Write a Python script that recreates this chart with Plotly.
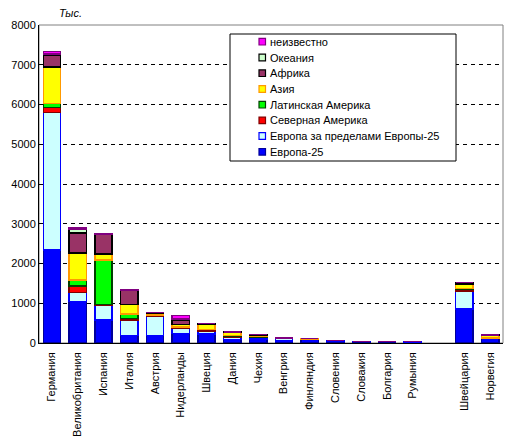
import plotly.graph_objects as go

countries = ["Германия", "Великобритания", "Испания", "Италия", "Австрия", "Нидерланды",
             "Швеция", "Дания", "Чехия", "Венгрия", "Финляндия", "Словения", "Словакия",
             "Болгария", "Румыния", " ", "Швейцария", "Норвегия"]

europe25 = [2345, 1040, 585, 190, 190, 240, 225, 85, 100, 45, 90, 55, 35, 35, 30, None, 860, 110]
europe_other = [3460, 230, 360, 395, 480, 120, 75, 55, 45, 65, 10, 10, 5, 5, 5, None, 445, 15]
north_america = [125, 170, 20, 35, 20, 30, 35, 40, 10, 5, 0, 0, 0, 0, 0, None, 55, 5]
latin_america = [100, 140, 1125, 110, 10, 10, 5, 5, 5, 5, 0, 0, 0, 0, 0, None, 5, 0]
asia = [910, 690, 150, 240, 50, 60, 130, 75, 45, 5, 10, 0, 0, 0, 0, None, 105, 55]
africa = [295, 500, 485, 360, 15, 120, 20, 15, 5, 5, 0, 0, 0, 0, 0, None, 45, 15]
oceania = [40, 100, 20, 5, 5, 30, 0, 0, 0, 0, 0, 0, 0, 0, 0, None, 5, 0]
unknown = [60, 40, 10, 5, 0, 80, 0, 0, 0, 0, 0, 0, 0, 0, 0, None, 0, 0]

series = [
    ("Европа-25", europe25, "#0000FF", "#000099"),
    ("Европа за пределами Европы-25", europe_other, "#CCFFFF", "#0000FF"),
    ("Северная Америка", north_america, "#FF0000", "#800000"),
    ("Латинская Америка", latin_america, "#00FF00", "#004000"),
    ("Азия", asia, "#FFFF00", "#FF9900"),
    ("Африка", africa, "#993366", "#000000"),
    ("Океания", oceania, "#CCFFCC", "#000000"),
    ("неизвестно", unknown, "#FF00FF", "#800080"),
]

# page has an 8px body margin: compensate so the plot area sits at x 39..503, y 25..343
OFF = 8
W, H = 517 - OFF, 445 - OFF
L, R, T, B = 39 - OFF, W + OFF - 503, 25 - OFF, H + OFF - 343
PW, PH = W - L - R, H - T - B


def px(x):
    return (x - OFF - L) / PW


def py(y):
    return (H + OFF - B - y) / PH


fig = go.Figure()
for name, vals, fill, edge in series:
    fig.add_trace(go.Bar(
        name=name, x=countries, y=vals,
        marker=dict(color=fill, line=dict(color=edge, width=1.5)),
        width=0.67, showlegend=False,
    ))

shapes = [dict(type="rect", xref="paper", yref="paper", x0=0, x1=1, y0=0, y1=1,
               line=dict(color="#808080", width=1), layer="below")]
annotations = [dict(text="<i>Тыс.</i>", xref="paper", yref="paper", x=px(70), y=py(13),
                    xanchor="center", yanchor="middle", showarrow=False,
                    font=dict(size=11))]

# manual legend (reversed order, as in the reference)
shapes.append(dict(type="rect", xref="paper", yref="paper", x0=px(230), x1=px(456),
                   y0=py(34), y1=py(161), line=dict(color="black", width=1),
                   fillcolor="white", layer="above"))
row_y = [41.7, 57.5, 73.2, 89, 104.7, 120.4, 136, 151.8]
for (name, vals, fill, edge), yy in zip(reversed(series), row_y):
    shapes.append(dict(type="rect", xref="paper", yref="paper",
                       x0=px(259), x1=px(265.5), y0=py(yy + 3.3), y1=py(yy - 3.3),
                       fillcolor=fill, line=dict(color=edge, width=1.2), layer="above"))
    annotations.append(dict(text=name, xref="paper", yref="paper", x=px(267.5), y=py(yy),
                            xanchor="left", yanchor="middle", showarrow=False,
                            font=dict(size=11)))

fig.update_layout(
    barmode="stack",
    width=W, height=H,
    margin=dict(l=L, r=R, t=T, b=B, autoexpand=False),
    paper_bgcolor="white", plot_bgcolor="white",
    font=dict(family="Liberation Sans, Arial", size=11, color="black"),
    showlegend=False,
    xaxis=dict(
        type="category", tickangle=-90, showline=True, linecolor="black", linewidth=1,
        ticks="", showgrid=False, tickfont=dict(size=11), automargin=False,
        ticklabelstandoff=4,
    ),
    yaxis=dict(
        range=[0, 8000], dtick=1000, showline=True, linecolor="black", linewidth=1,
        showgrid=True, gridcolor="black", gridwidth=1, griddash="4px,4px",
        ticks="", tickfont=dict(size=11), zeroline=False, automargin=False,
    ),
    shapes=shapes,
    annotations=annotations,
)

fig.write_html("out.html")
